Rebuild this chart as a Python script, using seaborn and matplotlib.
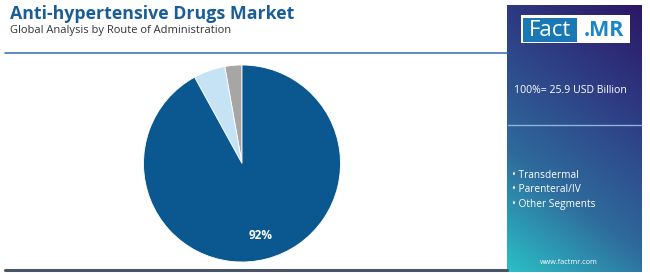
import numpy as np
import matplotlib
matplotlib.use("Agg")
import matplotlib.pyplot as plt
from matplotlib.colors import LinearSegmentedColormap
from matplotlib.patches import Rectangle
import seaborn as sns

# ---- data ----
segments = ["Other Segments", "Parenteral/IV", "Oral"]
shares = [2.8, 5.2, 92.0]
legend_items = ["Transdermal", "Parenteral/IV", "Other Segments"]
title = "Anti-hypertensive Drugs Market"
subtitle = "Global Analysis by Route of Administration"
total_label = "100%= 25.9 USD Billion"

sns.set_theme(style="white")
plt.rcParams['font.family'] = ['Open Sans', 'DejaVu Sans']

W, H = 650, 273
fig = plt.figure(figsize=(W / 100, H / 100), dpi=100)
fig.patch.set_facecolor("white")

def fx(px):
    return px / W

def fy(py):
    return 1 - py / H

# ---- title & lines ----
fig.text(fx(10), fy(14), title, fontsize=12.8, fontweight="bold", color="#1b5d96",
         va="center", ha="left")
fig.text(fx(10), fy(31), subtitle, fontsize=8.0, color="#333333", va="center", ha="left")
fig.add_artist(plt.Line2D([fx(5), fx(507)], [fy(53), fy(53)], color="#3d7ab5", lw=1.2))
fig.add_artist(plt.Line2D([fx(5), fx(507)], [fy(270), fy(270)], color="#4a5568", lw=2.2))

# ---- pie ----
cx, cy, R = 242, 163.5, 98.5
box = 100
ax = fig.add_axes([fx(cx - box), fy(cy + box), 2 * box / W, 2 * box / H])
colors = ["#a6a6a6", "#c5e3f5", "#0b5890"]
wedges, texts, autotexts = ax.pie(
    shares, colors=colors, startangle=90, counterclock=True, radius=R / box,
    autopct=lambda p: f"{p:.0f}%" if p > 50 else "", pctdistance=0.75,
    wedgeprops=dict(linewidth=0.6, edgecolor="white"),
    textprops=dict(color="white", fontsize=8.5, fontweight="bold"))
ax.set_xlim(-1, 1)
ax.set_ylim(-1, 1)
ax.set_aspect("equal")
ax.axis("off")

# ---- right panel with gradient ----
px0, px1, py0, py1 = 507, 642, 5, 272
pax = fig.add_axes([fx(px0), fy(py1), (px1 - px0) / W, (py1 - py0) / H])
nx, ny = 100, 200
xx, yy = np.meshgrid(np.linspace(0, 1, nx), np.linspace(0, 1, ny))
t = 0.72 * yy + 0.28 * (1 - xx)
cmap = LinearSegmentedColormap.from_list(
    "fm", ["#2c1766", "#2e3f85", "#2f6a9c", "#2bbfc6"])
pax.imshow(t, cmap=cmap, aspect="auto", extent=[0, 1, 0, 1], origin="upper",
           vmin=0, vmax=1)
pax.set_xlim(0, 1)
pax.set_ylim(0, 1)
pax.axis("off")

# logo
fig.add_artist(Rectangle((fx(520.7), fy(43.3)), (630 - 520.7) / W, (43.3 - 15) / H,
                         transform=fig.transFigure, facecolor="white", edgecolor="none"))
fig.add_artist(Rectangle((fx(522.7), fy(41.7)), (577.3 - 522.7) / W, (41.7 - 18.3) / H,
                         transform=fig.transFigure, facecolor="#1a78b4", edgecolor="none"))
fig.text(fx(550), fy(30.5), "Fact", fontsize=16, color="white", ha="center", va="center")
fig.text(fx(603.5), fy(30.5), ".MR", fontsize=15.5, color="#1a86c6", ha="center",
         va="center", fontweight="bold")

fig.text(fx(514), fy(91), total_label, fontsize=7.6, color="white", ha="left", va="center")
fig.add_artist(plt.Line2D([fx(508), fx(641)], [fy(125), fy(125)], color="#8fb3d9", lw=1))
for i, item in enumerate(legend_items):
    fig.text(fx(512.5), fy(176 + 14 * i), "\u2022 " + item, fontsize=7.3, color="white",
             ha="left", va="center")
fig.text(fx(569), fy(263), "www.factmr.com", fontsize=5.2, color="white",
         ha="center", va="center")

fig.savefig("out.png", dpi=100, facecolor="white")
